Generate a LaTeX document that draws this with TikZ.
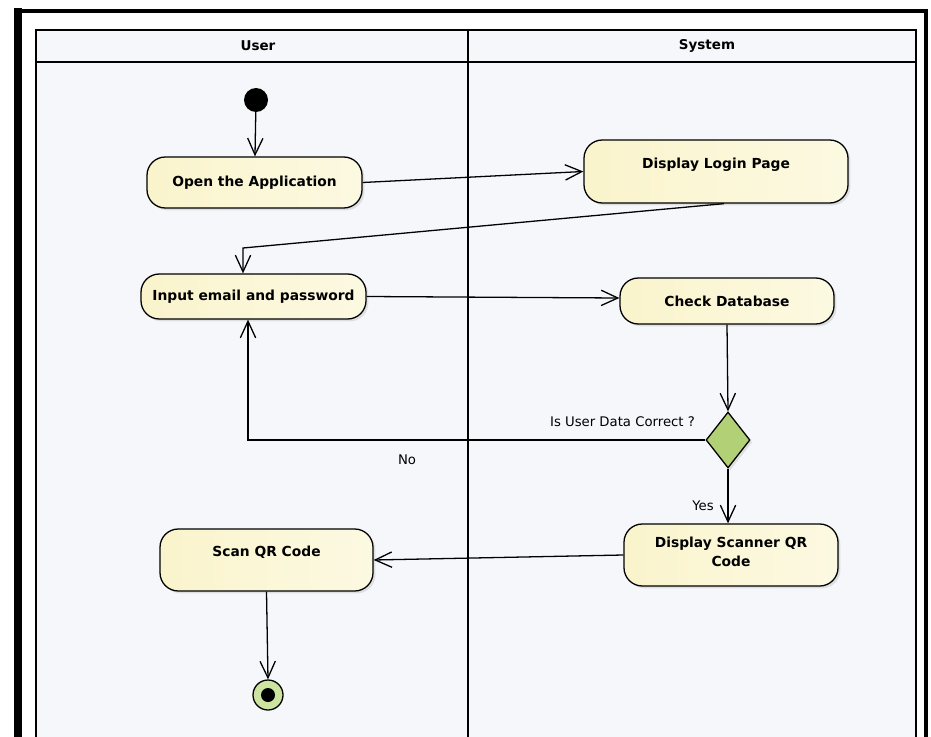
\documentclass[tikz,border=0pt]{standalone}
\usepackage{fontspec}
\setmainfont{DejaVu Sans}
\usepackage{tikz}
\usetikzlibrary{calc,positioning,shapes}
\usetikzlibrary{shadows}
\usetikzlibrary{arrows.meta}
\definecolor{actfill}{RGB}{250,244,204}
\definecolor{actfillb}{RGB}{252,249,226}
\definecolor{decfill}{RGB}{178,208,118}
\definecolor{endfill}{RGB}{204,228,160}
\definecolor{lanefill}{RGB}{246,247,251}
\tikzset{>={Straight Barb[width=4.6mm,length=5mm]}}

\begin{document}
\begin{tikzpicture}[x=0.03cm,y=-0.03cm]
          \tikzstyle{act} = [line width=1.1pt, draw, rounded corners=0.55cm, align=center, font=\bfseries\fontsize{11.8}{15.5}\selectfont, left color=actfill, right color=actfillb, drop shadow={shadow xshift=2pt, shadow yshift=-2pt, opacity=0.2}]
          \tikzstyle{dec} = [line width=1.1pt, draw, diamond, fill=decfill, inner sep=0pt, minimum width=1.32cm, minimum height=1.68cm, drop shadow={shadow xshift=2pt, shadow yshift=-2pt, opacity=0.2}]
          \tikzstyle{lbl} = [font=\fontsize{11.3}{13}\selectfont]
          \tikzstyle{flow} = [line width=1.1pt, ->]

          \useasboundingbox (0,0) rectangle (931,737);
          \fill[white] (0,0) rectangle (931,737);

          % frame and lanes
          \draw[line width=3pt] (926,737) -- (926,11) -- (16,11);
          \draw[line width=6pt] (18,8) -- (18,737);
          \draw[line width=1.1pt, fill=lanefill] (36,737) -- (36,30) -- (916,30) -- (916,737);
          \draw[line width=1.1pt] (36,62) -- (916,62);
          \draw[line width=1.1pt] (468,30) -- (468,737);
          \node[font=\bfseries\fontsize{11.5}{13}\selectfont] (user) at (258,46) {User};
          \node[font=\bfseries\fontsize{11.5}{13}\selectfont] (system) at (707,46) {System};

          \node[circle, fill=black, minimum size=0.72cm, inner sep=0pt] (start) at (256,100) {};
          \node[act, minimum width=6.45cm, minimum height=1.53cm] (open) at (254.5,182.5) {Open the Application};
          \node[act, minimum width=7.92cm, minimum height=1.89cm, text depth=0.5cm] (login) at (716,171.5) {Display Login Page};
          \node[act, minimum width=6.75cm, minimum height=1.35cm] (input) at (253.5,296.5) {Input email and password};
          \node[act, minimum width=6.42cm, minimum height=1.38cm] (check) at (727,301) {Check Database};
          \node[dec] (correct) at (728,440) {};
          \node[act, minimum width=6.42cm, minimum height=1.86cm, text depth=0.2cm] (scanner) at (731,555) {Display Scanner QR\\Code};
          \node[act, minimum width=6.39cm, minimum height=1.86cm, text depth=0.5cm] (scan) at (266.5,560) {Scan QR Code};
          \node[circle, draw, line width=1.1pt, fill=endfill, minimum size=0.9cm, inner sep=0pt] (end) at (268,695) {};
          \node[circle, fill=black, minimum size=0.42cm, inner sep=0pt] (endin) at (end) {};

          \node[lbl, anchor=east] (question) at (699,422) {Is User Data Correct ?};
          \node[lbl] (no) at (407,460) {No};
          \node[lbl] (yes) at (703,506) {Yes};

          \coordinate (bend1) at (243,248);
          \coordinate (bend2) at (248,440);

          \draw[flow] (start) -- (open);
          \draw[flow] (open.east) -- (login.west);
          \draw[flow] ($(login.south)+(8,0)$) -- (bend1) -- (bend1 |- input.north);
          \draw[flow] (input.east) -- ($(check.west)+(0,-3)$);
          \draw[flow] (check.south) -- (correct.north);
          \draw[flow] (correct.west) -- (bend2) -- (bend2 |- input.south);
          \draw[flow] (correct.south) -- (correct.south |- scanner.north);
          \draw[flow] (scanner.west) -- (scan.east);
          \draw[flow] (scan.south) -- (end.north);
        \end{tikzpicture}
\end{document}
